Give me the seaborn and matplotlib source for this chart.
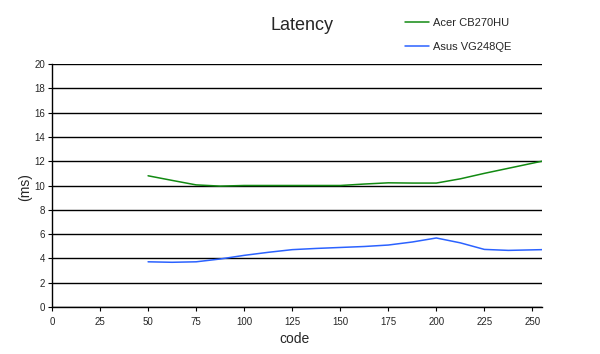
import matplotlib
matplotlib.use("Agg")
import matplotlib.pyplot as plt
import seaborn as sns
import pandas as pd

# Data
acer_code = [50, 62.5, 75, 87.5, 100, 112.5, 125, 137.5, 150, 162.5, 175, 187.5, 200, 212.5, 225, 240, 255]
acer_ms = [10.8, 10.42, 10.05, 9.95, 10.0, 10.0, 10.0, 10.0, 10.0, 10.12, 10.22, 10.2, 10.2, 10.55, 11.0, 11.5, 12.0]
asus_code = [50, 62.5, 75, 87.5, 100, 112.5, 125, 137.5, 150, 162.5, 175, 187.5, 200, 212.5, 225, 237.5, 255]
asus_ms = [3.72, 3.68, 3.72, 3.95, 4.25, 4.5, 4.72, 4.82, 4.9, 4.98, 5.1, 5.35, 5.68, 5.28, 4.74, 4.66, 4.72]
series_names = ["Acer CB270HU", "Asus VG248QE"]
x_ticks = [0, 25, 50, 75, 100, 125, 150, 175, 200, 225, 250]
y_ticks = [0, 2, 4, 6, 8, 10, 12, 14, 16, 18, 20]

df = pd.concat([
    pd.DataFrame({"code": acer_code, "ms": acer_ms, "series": series_names[0]}),
    pd.DataFrame({"code": asus_code, "ms": asus_ms, "series": series_names[1]}),
])

sns.set_theme(style="white")
plt.rcParams["font.family"] = ["Liberation Sans", "DejaVu Sans"]

fig = plt.figure(figsize=(6, 3.54), dpi=100)
ax = fig.add_axes([52/600, 1 - 307/354, (542 - 52)/600, (307 - 64)/354])

palette = {series_names[0]: "#128a12", series_names[1]: "#2b62ff"}
sns.lineplot(data=df, x="code", y="ms", hue="series", palette=palette,
             linewidth=1.1, ax=ax, sort=False, estimator=None)

ax.set_xlim(0, 255)
ax.set_ylim(0, 20)
ax.set_xticks(x_ticks)
ax.set_yticks(y_ticks)
ax.set_xticklabels([str(t) for t in x_ticks], fontsize=7)
ax.set_yticklabels([str(t) for t in y_ticks], fontsize=7)
ax.tick_params(axis="both", direction="out", length=3, width=0.8, color="black", pad=2,
               bottom=True, left=True)
ax.tick_params(axis="x", pad=4)

ax.yaxis.grid(True, color="black", linewidth=1.0)
ax.xaxis.grid(False)
ax.set_axisbelow(True)
for side in ["top", "right"]:
    ax.spines[side].set_visible(False)
for side in ["left", "bottom"]:
    ax.spines[side].set_visible(True)
    ax.spines[side].set_color("black")
    ax.spines[side].set_linewidth(1.0)

ax.set_xlabel("")
ax.set_ylabel("")
fig.text(294/600, 1 - 339/354, "code", ha="center", va="center", fontsize=10)
fig.text(25/600, 1 - 187/354, "(ms)", ha="center", va="center", fontsize=10, rotation=90)
fig.text(302/600, 1 - 25/354, "Latency", ha="center", va="center", fontsize=13)

handles, labels = ax.get_legend_handles_labels()
leg = ax.legend(handles, labels, loc="upper left", bbox_to_anchor=(405/600, 1 - 18/354),
                bbox_transform=fig.transFigure, frameon=False, fontsize=8,
                handlelength=2.15, handletextpad=0.35, labelspacing=1.25, borderaxespad=0,
                borderpad=0)

fig.savefig("out.png", dpi=100, facecolor="white")
